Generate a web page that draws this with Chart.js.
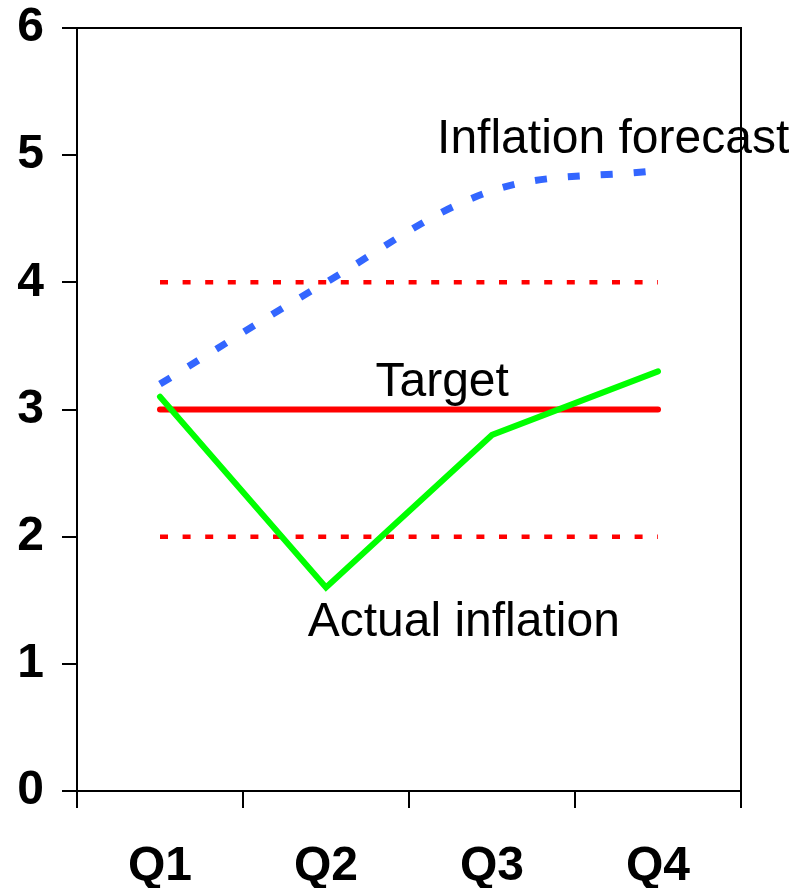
<!DOCTYPE html>
<html>
<head>
<meta charset="utf-8">
<script src="https://cdn.jsdelivr.net/npm/chart.js@4.4.1/dist/chart.umd.min.js"></script>
<style>
  html, body { margin: 0; padding: 0; background: #ffffff; }
  #wrap { width: 794px; height: 888px; }
</style>
</head>
<body>
<div id="wrap"><canvas id="chart" width="794" height="888"></canvas></div>
<script>
// Quarterly inflation path against the target band
const categories = ['Q1', 'Q2', 'Q3', 'Q4'];
const actualInflation = [3.1, 1.6, 2.8, 3.3];
const inflationForecast = [3.2, 4.0, 4.72, 4.88];
const targetRate = [3, 3, 3, 3];
const upperBand = [4, 4, 4, 4];
const lowerBand = [2, 2, 2, 2];
const yTicks = [0, 1, 2, 3, 4, 5, 6];

// Series captions, anchored in data coordinates (category index, value at baseline)
const captions = [
  { text: 'Inflation forecast', at: 2.73, value: 5.02 },
  { text: 'Target', at: 1.70, value: 3.11 },
  { text: 'Actual inflation', at: 1.83, value: 1.22 }
];

const FONT = '"Liberation Sans", Arial, Helvetica, sans-serif';

const framePlugin = {
  id: 'frame',
  afterDraw(chart) {
    const { ctx, chartArea: a } = chart;
    ctx.save();
    ctx.strokeStyle = '#000000';
    ctx.lineWidth = 2;
    ctx.strokeRect(a.left, a.top, a.right - a.left, a.bottom - a.top);
    ctx.restore();
  }
};

const captionPlugin = {
  id: 'captions',
  afterDatasetsDraw(chart) {
    const { ctx, scales } = chart;
    ctx.save();
    ctx.fillStyle = '#000000';
    ctx.font = '48px ' + FONT;
    ctx.textAlign = 'center';
    ctx.textBaseline = 'alphabetic';
    captions.forEach(c => {
      ctx.fillText(c.text, scales.x.getPixelForValue(c.at), scales.y.getPixelForValue(c.value));
    });
    ctx.restore();
  }
};

// fixed axis sizes; the plot box itself is set by the layout padding
function fitX(scale) {
  scale.height = 97;
  scale.paddingLeft = 0;
  scale.paddingRight = 0;
}
function fitY(scale) {
  scale.width = 77;
  scale.paddingTop = 0;
  scale.paddingBottom = 0;
}

new Chart(document.getElementById('chart'), {
  type: 'line',
  data: {
    labels: categories,
    datasets: [
      {
        label: 'Actual inflation',
        data: actualInflation,
        borderColor: '#00ff00',
        borderWidth: 6,
        borderCapStyle: 'round',
        borderJoinStyle: 'miter',
        tension: 0,
        pointRadius: 0
      },
      {
        label: 'Target',
        data: targetRate,
        borderColor: '#ff0000',
        borderWidth: 6,
        borderCapStyle: 'round',
        tension: 0,
        pointRadius: 0
      },
      {
        label: 'Inflation forecast',
        data: inflationForecast,
        borderColor: '#3366ff',
        borderWidth: 7,
        borderDash: [12, 21],
        borderCapStyle: 'butt',
        tension: 0.35,
        pointRadius: 0
      },
      {
        label: 'Upper band',
        data: upperBand,
        borderColor: '#ff0000',
        borderWidth: 4.5,
        borderDash: [8, 14.6],
        borderCapStyle: 'butt',
        tension: 0,
        pointRadius: 0
      },
      {
        label: 'Lower band',
        data: lowerBand,
        borderColor: '#ff0000',
        borderWidth: 4.5,
        borderDash: [8, 14.6],
        borderCapStyle: 'butt',
        tension: 0,
        pointRadius: 0
      }
    ]
  },
  options: {
    responsive: false,
    animation: false,
    layout: { padding: { left: 0, right: 53, top: 28, bottom: 0 } },
    plugins: {
      legend: { display: false },
      tooltip: { enabled: false }
    },
    scales: {
      x: {
        type: 'category',
        offset: true,
        grid: {
          offset: true,
          drawOnChartArea: false,
          drawTicks: true,
          tickLength: 17,
          color: '#000000',
          lineWidth: 2
        },
        border: { display: true, color: '#000000', width: 2 },
        ticks: {
          color: '#000000',
          font: { family: FONT, size: 48, weight: 'bold' },
          padding: 30,
          maxRotation: 0
        },
        afterFit: fitX
      },
      y: {
        min: 0,
        max: 6,
        afterBuildTicks(scale) { scale.ticks = yTicks.map(v => ({ value: v })); },
        grid: {
          drawOnChartArea: false,
          drawTicks: true,
          tickLength: 15,
          color: '#000000',
          lineWidth: 2
        },
        border: { display: true, color: '#000000', width: 2 },
        ticks: {
          color: '#000000',
          font: { family: FONT, size: 48, weight: 'bold' },
          padding: 18
        },
        afterFit: fitY
      }
    }
  },
  plugins: [framePlugin, captionPlugin]
});
</script>
</body>
</html>
